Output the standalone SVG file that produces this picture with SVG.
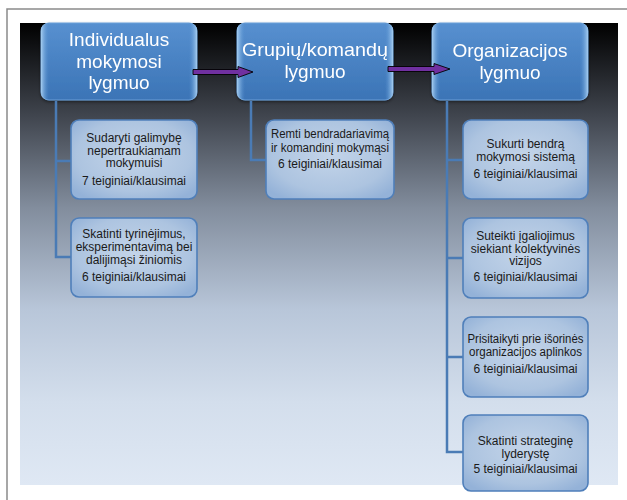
<svg xmlns="http://www.w3.org/2000/svg" width="627" height="500" viewBox="0 0 627 500">
<defs>
  <linearGradient id="bg" x1="0" y1="0" x2="0" y2="1">
    <stop offset="0" stop-color="#000000"/>
    <stop offset="0.2" stop-color="#40454e"/>
    <stop offset="0.4" stop-color="#828d9d"/>
    <stop offset="0.62" stop-color="#b8c6d9"/>
    <stop offset="0.82" stop-color="#d3deec"/>
    <stop offset="1" stop-color="#dfe8f4"/>
  </linearGradient>
  <linearGradient id="topfill" x1="0" y1="0" x2="0" y2="1">
    <stop offset="0" stop-color="#5790d0"/>
    <stop offset="1" stop-color="#3b74b6"/>
  </linearGradient>
  <linearGradient id="bevelL" x1="0" y1="0" x2="1" y2="0">
    <stop offset="0" stop-color="#a9d0f2" stop-opacity="0.95"/>
    <stop offset="1" stop-color="#5a94d2" stop-opacity="0"/>
  </linearGradient>
  <linearGradient id="bevelR" x1="1" y1="0" x2="0" y2="0">
    <stop offset="0" stop-color="#a9d0f2" stop-opacity="0.95"/>
    <stop offset="1" stop-color="#5a94d2" stop-opacity="0"/>
  </linearGradient>
  <radialGradient id="childfill" cx="0.5" cy="0.45" r="0.65">
    <stop offset="0" stop-color="#c3d4e9"/>
    <stop offset="0.7" stop-color="#adc4e0"/>
    <stop offset="1" stop-color="#94b2d8"/>
  </radialGradient>
  <filter id="sh" x="-10%" y="-10%" width="120%" height="125%">
    <feDropShadow dx="0" dy="1.5" stdDeviation="1.5" flood-color="#000" flood-opacity="0.45"/>
  </filter>
</defs>
<style>
  .top rect.base { fill: url(#topfill); stroke: #6a9fd8; stroke-width: 1; }
  .top text { font-family: "Liberation Sans", Arial, sans-serif; font-size: 19px; fill: #ffffff; text-anchor: middle; }
  .child rect { fill: url(#childfill); stroke: #4f7fba; stroke-width: 1.6; }
  .child text { font-family: "Liberation Sans", Arial, sans-serif; font-size: 12px; fill: #1a1a1a; text-anchor: middle; }
  .conn { stroke: #4a7bb5; stroke-width: 2.5; fill: none; }
  .arrow { fill: #7030a0; stroke: #000; stroke-width: 0.9; }
</style>

<!-- frame -->
<path d="M7 500 V9 H627" fill="none" stroke="#8a8a8a" stroke-width="1.5"/>
<rect x="20" y="23" width="598" height="462" fill="url(#bg)"/>

<!-- top nodes -->
<g id="node-individual" class="top" filter="url(#sh)">
  <rect class="base" x="41" y="23" width="156" height="77" rx="8"/>
  <path d="M41 31 Q41 23 49 23 V100 Q41 100 41 92 Z" fill="url(#bevelL)"/>
  <path d="M197 31 Q197 23 189 23 V100 Q197 100 197 92 Z" fill="url(#bevelR)"/>
  <text x="119" y="46">Individualus</text>
  <text x="119" y="67.5">mokymosi</text>
  <text x="119" y="89">lygmuo</text>
</g>
<g id="node-group" class="top" filter="url(#sh)">
  <rect class="base" x="237" y="23" width="156" height="77" rx="8"/>
  <path d="M237 31 Q237 23 245 23 V100 Q237 100 237 92 Z" fill="url(#bevelL)"/>
  <path d="M393 31 Q393 23 385 23 V100 Q393 100 393 92 Z" fill="url(#bevelR)"/>
  <text x="315" y="56" textLength="146" lengthAdjust="spacingAndGlyphs">Grupių/komandų</text>
  <text x="315" y="78">lygmuo</text>
</g>
<g id="node-org" class="top" filter="url(#sh)">
  <rect class="base" x="432" y="23" width="156" height="77" rx="8"/>
  <path d="M432 31 Q432 23 440 23 V100 Q432 100 432 92 Z" fill="url(#bevelL)"/>
  <path d="M588 31 Q588 23 580 23 V100 Q588 100 588 92 Z" fill="url(#bevelR)"/>
  <text x="510" y="57">Organizacijos</text>
  <text x="510" y="79">lygmuo</text>
</g>

<!-- connectors -->
<g id="connectors">
  <path class="conn" d="M56 101 V257 H71 M56 161 H71"/>
  <path class="conn" d="M251 101 V160 H266"/>
  <path class="conn" d="M447 101 V452 H463 M447 160 H463 M447 258 H463 M447 357 H463"/>
  <polygon class="arrow" points="193,69.5 238,69.5 238,66.5 253,72 238,77.5 238,74.5 193,74.5"/>
  <polygon class="arrow" points="388,66.5 434,66.5 434,63.5 450,69 434,74.5 434,71.5 388,71.5"/>
</g>

<!-- individual children -->
<g id="child-ind-1" class="child">
  <rect x="71" y="120" width="126" height="79" rx="8"/>
  <text x="134" y="142">Sudaryti galimybę</text>
  <text x="134" y="154.5">nepertraukiamam</text>
  <text x="134" y="167">mokymuisi</text>
  <text x="134" y="185">7 teiginiai/klausimai</text>
</g>
<g id="child-ind-2" class="child">
  <rect x="71" y="218" width="126" height="79" rx="8"/>
  <text x="134" y="238">Skatinti tyrinėjimus,</text>
  <text x="134" y="251">eksperimentavimą bei</text>
  <text x="134" y="264">dalijimąsi žiniomis</text>
  <text x="134" y="281">6 teiginiai/klausimai</text>
</g>

<!-- group child -->
<g id="child-grp-1" class="child">
  <rect x="266" y="120" width="128" height="79" rx="8"/>
  <text x="330" y="138" textLength="118" lengthAdjust="spacingAndGlyphs">Remti bendradariavimą</text>
  <text x="330" y="151.5" textLength="118" lengthAdjust="spacingAndGlyphs">ir komandinį mokymąsi</text>
  <text x="330" y="168">6 teiginiai/klausimai</text>
</g>

<!-- org children -->
<g id="child-org-1" class="child">
  <rect x="463" y="120" width="125" height="79" rx="8"/>
  <text x="525.5" y="147.5">Sukurti bendrą</text>
  <text x="525.5" y="160.5">mokymosi sistemą</text>
  <text x="525.5" y="178">6 teiginiai/klausimai</text>
</g>
<g id="child-org-2" class="child">
  <rect x="463" y="218" width="125" height="80" rx="8"/>
  <text x="525.5" y="240">Suteikti įgaliojimus</text>
  <text x="525.5" y="252.5">siekiant kolektyvinės</text>
  <text x="525.5" y="265">vizijos</text>
  <text x="525.5" y="281">6 teiginiai/klausimai</text>
</g>
<g id="child-org-3" class="child">
  <rect x="463" y="317" width="125" height="80" rx="8"/>
  <text x="525.5" y="343" textLength="116" lengthAdjust="spacingAndGlyphs">Prisitaikyti prie išorinės</text>
  <text x="525.5" y="355.5" textLength="113" lengthAdjust="spacingAndGlyphs">organizacijos aplinkos</text>
  <text x="525.5" y="373">6 teiginiai/klausimai</text>
</g>
<g id="child-org-4" class="child">
  <rect x="463" y="415" width="125" height="76" rx="8"/>
  <text x="525.5" y="445">Skatinti strateginę</text>
  <text x="525.5" y="457.5">lyderystę</text>
  <text x="525.5" y="473">5 teiginiai/klausimai</text>
</g>
</svg>
